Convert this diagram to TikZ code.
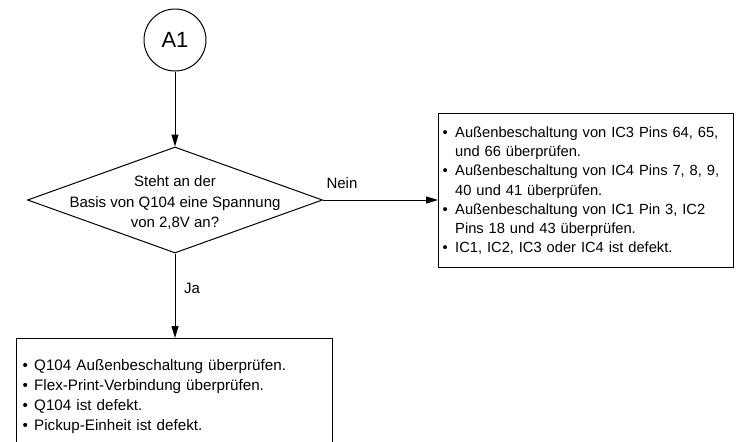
\documentclass[tikz,border=0pt]{standalone}
\usepackage{fontspec}
\setmainfont{Liberation Sans}
\usetikzlibrary{shapes.geometric,arrows.meta}
\newcommand{\ritem}[1]{\par\hangindent=17pt\hangafter=1\noindent\makebox[17pt][l]{\hspace{4.5pt}\textbullet}#1}
\newcommand{\bitem}[1]{\par\hangindent=18pt\hangafter=1\noindent\makebox[18pt][l]{\hspace{6.5pt}\textbullet}#1}
\newcommand{\nl}{\hfill\break}
\begin{document}
\begin{tikzpicture}[x=1pt,y=1pt,
  every node/.style={font=\fontsize{15}{19.3}\selectfont},
  conn/.style={line width=1pt,-{Triangle[length=12pt,width=7pt]}},
  boxstyle/.style={draw,line width=1pt,rectangle,inner sep=0pt}]
\useasboundingbox (0,0) rectangle (740,-442);
\clip (0,0) rectangle (740,-442);
\node[draw,circle,line width=1pt,minimum size=62pt,inner sep=0pt,font=\fontsize{22}{24}\selectfont] (a1) at (175,-40) {A1};
\node[draw,diamond,line width=1pt,minimum width=295pt,minimum height=106pt,inner sep=0pt] (q) at (175,-200) {};
\node[align=center,font=\fontsize{15}{20.5}\selectfont] (qtext) at (175,-203) {Steht an der\\Basis von Q104 eine Spannung\\von 2,8V an?};
\node[boxstyle,anchor=north west,minimum width=295pt,minimum height=154pt] (rbox) at (438,-113) {};
\node[anchor=north west,text width=330pt,align=left,inner sep=0pt,font=\fontsize{14.7}{19.2}\selectfont] (rtext) at (438,-118) {%
\ritem{Außenbeschaltung von IC3 Pins 64, 65,\nl und 66 überprüfen.}
\ritem{Außenbeschaltung von IC4 Pins 7, 8, 9,\nl 40 und 41 überprüfen.}
\ritem{Außenbeschaltung von IC1 Pin 3, IC2\nl Pins 18 und 43 überprüfen.}
\ritem{IC1, IC2, IC3 oder IC4 ist defekt.}};
\node[boxstyle,anchor=north west,minimum width=316pt,minimum height=140pt] (bbox) at (16,-338) {};
\node[anchor=north west,text width=300pt,align=left,inner sep=0pt,font=\fontsize{15.2}{20}\selectfont] (btext) at (16,-350) {%
\bitem{Q104 Außenbeschaltung überprüfen.}
\bitem{Flex-Print-Verbindung überprüfen.}
\bitem{Q104 ist defekt.}
\bitem{Pickup-Einheit ist defekt.}};
\node (nein) at (342,-183) {Nein};
\node (ja) at (192,-288) {Ja};
\draw[conn] (a1) -- (q.north);
\draw[conn] (q.east) -- (q.east -| rbox.west);
\draw[conn] (q.south) -- (q.south |- bbox.north);
\end{tikzpicture}
\end{document}
